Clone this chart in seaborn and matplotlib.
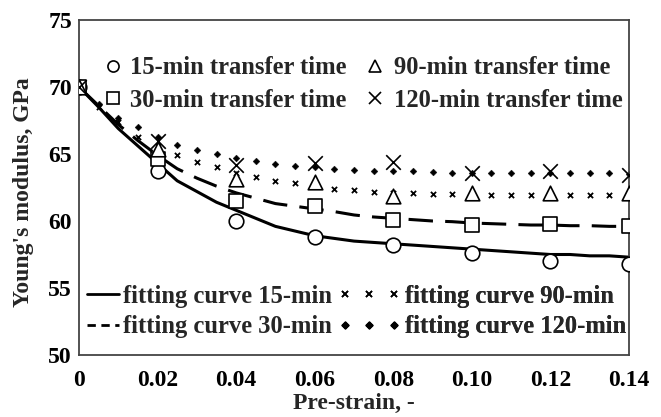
import numpy as np
import matplotlib
matplotlib.use("Agg")
import matplotlib.pyplot as plt
import seaborn as sns
import pandas as pd
from matplotlib.lines import Line2D

# measured points (every 0.02 pre-strain)
strain = [0.0, 0.02, 0.04, 0.06, 0.08, 0.10, 0.12, 0.14]
e_15 = [70.0, 63.7, 60.0, 58.8, 58.2, 57.6, 57.0, 56.8]
e_30 = [70.0, 64.6, 61.5, 61.1, 60.1, 59.7, 59.8, 59.6]
e_90 = [70.0, 65.4, 63.1, 62.9, 61.9, 62.1, 62.1, 62.1]
e_120 = [70.0, 66.0, 64.2, 64.3, 64.4, 63.6, 63.7, 63.4]

# fitting curves
fit_strain = [0.0, 0.005, 0.01, 0.015, 0.02, 0.025, 0.03, 0.035, 0.04, 0.045,
              0.05, 0.055, 0.06, 0.065, 0.07, 0.075, 0.08, 0.085, 0.09, 0.095,
              0.10, 0.105, 0.11, 0.115, 0.12, 0.125, 0.13, 0.135, 0.14]
fit_15 = [70.0, 68.5, 66.9, 65.6, 64.3, 63.0, 62.2, 61.4, 60.8, 60.2,
          59.6, 59.25, 58.9, 58.7, 58.5, 58.4, 58.3, 58.2, 58.1, 58.0,
          57.9, 57.8, 57.7, 57.6, 57.5, 57.5, 57.4, 57.4, 57.3]
fit_30 = [70.0, 68.6, 67.2, 66.0, 64.9, 63.9, 63.2, 62.6, 62.1, 61.7,
          61.3, 61.1, 60.9, 60.7, 60.45, 60.3, 60.2, 60.1, 60.0, 59.95,
          59.85, 59.8, 59.75, 59.7, 59.7, 59.65, 59.65, 59.6, 59.6]
fit_90 = [70.0, 68.5, 67.4, 66.3, 65.6, 64.9, 64.4, 64.0, 63.6, 63.3,
          63.0, 62.8, 62.6, 62.4, 62.3, 62.2, 62.1, 62.1, 62.05, 62.0,
          62.0, 61.95, 61.95, 61.95, 61.95, 61.95, 61.95, 61.95, 61.95]
fit_120 = [70.0, 68.7, 67.7, 67.0, 66.3, 65.7, 65.3, 65.0, 64.7, 64.5,
           64.25, 64.1, 64.0, 63.9, 63.8, 63.75, 63.7, 63.7, 63.65, 63.6,
           63.6, 63.6, 63.6, 63.55, 63.55, 63.55, 63.55, 63.55, 63.5]

x_ticks = [0, 0.02, 0.04, 0.06, 0.08, 0.10, 0.12, 0.14]
x_ticklabels = ["0", "0.02", "0.04", "0.06", "0.08", "0.10", "0.12", "0.14"]
y_ticks = [50, 55, 60, 65, 70, 75]

sns.set_theme(style="white")
plt.rcParams["font.family"] = ["Liberation Serif", "DejaVu Serif"]
plt.rcParams["font.weight"] = "bold"
fs = 17
fs_leg = 17.7

fig = plt.figure(figsize=(6.61, 4.17), dpi=100)
ax = fig.add_axes([79 / 661, 1 - 355 / 417, 550 / 661, 335 / 417])

fits = pd.DataFrame({"strain": fit_strain, "f15": fit_15, "f30": fit_30,
                     "f90": fit_90, "f120": fit_120})
sns.lineplot(data=fits, x="strain", y="f15", ax=ax, color="black", lw=2.2, zorder=2)
sns.lineplot(data=fits, x="strain", y="f30", ax=ax, color="black", lw=2.2,
             zorder=2).lines[-1].set_dashes([8, 4])
sns.scatterplot(data=fits, x="strain", y="f90", ax=ax, marker="x", s=14,
                color="black", linewidth=1.3, zorder=2)
sns.scatterplot(data=fits, x="strain", y="f120", ax=ax, marker="D", s=12,
                color="black", edgecolor="black", zorder=2)

pts = pd.DataFrame({"strain": strain, "e15": e_15, "e30": e_30,
                    "e90": e_90, "e120": e_120})
mk = dict(ax=ax, s=110, facecolor="white", edgecolor="black", linewidth=1.2, zorder=3)
sns.scatterplot(data=pts, x="strain", y="e15", marker="o", **mk)
sns.scatterplot(data=pts, x="strain", y="e30", marker="s", **mk)
sns.scatterplot(data=pts, x="strain", y="e90", marker="^", **mk)
sns.scatterplot(data=pts, x="strain", y="e120", marker="x", ax=ax, s=110,
                color="black", linewidth=1.2, zorder=3)

ax.set_xlim(0, 0.14)
ax.set_ylim(50, 75)
ax.set_xticks(x_ticks)
ax.set_xticklabels(x_ticklabels)
ax.set_yticks(y_ticks)
ax.tick_params(length=0, labelsize=fs, colors="black")
ax.tick_params(axis="x", pad=11)
ax.tick_params(axis="y", pad=5)
for lab in ax.get_xticklabels() + ax.get_yticklabels():
    lab.set_fontweight("bold")
for sp in ax.spines.values():
    sp.set_visible(True)
    sp.set_color("#444444")
    sp.set_linewidth(1.3)
ax.set_xlabel("Pre-strain, -", fontsize=fs, fontweight="bold", labelpad=1)
ax.set_ylabel("Young's modulus, GPa", fontsize=fs, fontweight="bold")
ax.yaxis.set_label_coords(-0.082, 0.487)


def h(**kw):
    return Line2D([], [], color="black", **kw)


def add_leg(handles, labels, x, y, hl, sp, pad, **kw):
    leg = ax.legend(handles, labels, loc="upper left", bbox_to_anchor=(x, y),
                    frameon=False, handlelength=hl, handletextpad=pad,
                    labelspacing=sp, borderpad=0, borderaxespad=0,
                    prop={"weight": "bold", "size": fs_leg}, **kw)
    ax.add_artist(leg)


# data legend, two columns
add_leg([h(ls="none", marker="o", ms=8, mfc="white", mew=1.2),
         h(ls="none", marker="s", ms=8, mfc="white", mew=1.2)],
        ["15-min transfer time", "30-min transfer time"], 0.0395, 0.892, 1.0, 0.40, 0.2)
add_leg([h(ls="none", marker="^", ms=8, mfc="white", mew=1.2),
         h(ls="none", marker="x", ms=8, mew=1.2)],
        ["90-min transfer time", "120-min transfer time"], 0.516, 0.892, 1.0, 0.40, 0.25)

# fitting curve legend, two columns
add_leg([h(lw=2), h(lw=2, ls=(0, (3, 2)))],
        ["fitting curve 15-min", "fitting curve 30-min"], 0.0145, 0.209, 1.3, 0.29, 0.16)
add_leg([h(ls="none", marker="x", ms=4, mew=1.2), h(ls="none", marker="D", ms=3.5)],
        ["fitting curve 90-min", "fitting curve 120-min"], 0.470, 0.209, 2.6, 0.29, 0.15,
        numpoints=3)

fig.savefig("out.png", dpi=100)
